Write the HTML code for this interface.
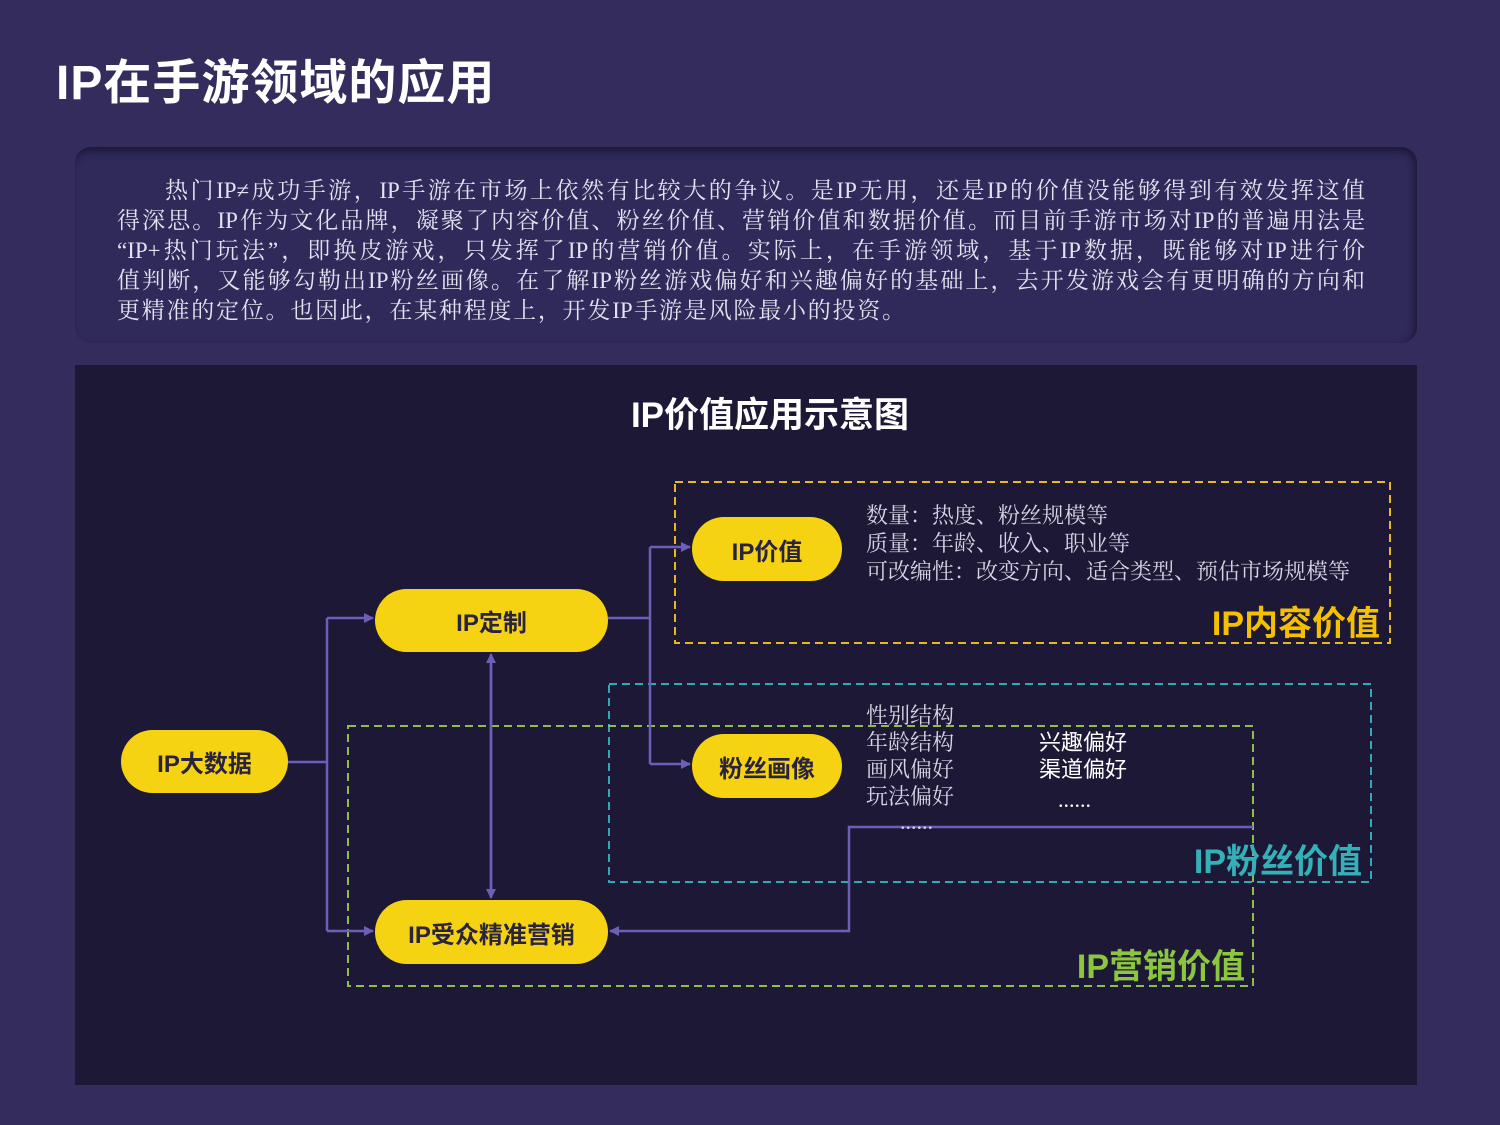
<!DOCTYPE html>
<html><head><meta charset="utf-8"><style>
*{margin:0;padding:0;box-sizing:border-box}
body{width:1500px;height:1125px;background:#352c5e;position:relative;overflow:hidden;font-family:"Liberation Sans","Noto Sans CJK SC",sans-serif}
.a{position:absolute;white-space:nowrap}
.h1{left:56px;top:54px;font-size:48px;font-weight:bold;color:#fff;line-height:60px;letter-spacing:1px}
.box{left:75px;top:147px;width:1342px;height:196px;border-radius:16px;background:#2f2a5a;box-shadow:inset 0 8px 8px -4px #1d1838, inset -6px 0 8px -4px #1d1838}
.p{left:117px;width:1248px;font-family:"Liberation Serif","Noto Serif CJK SC",serif;font-size:23px;color:#e4e2f0;line-height:30px;text-align:justify;text-align-last:justify;white-space:nowrap}
.panel{left:75px;top:365px;width:1342px;height:720px;background:#1c1836}
.node{position:absolute;background:#f6d312;border-radius:32px;color:#2a2340;font-weight:bold;font-size:24px;display:flex;align-items:center;justify-content:center}
.t{font-family:"Liberation Serif","Noto Serif CJK SC",serif;font-size:22px;color:#d6d4e4;line-height:28px}
.w{font-size:22px;color:#fff;line-height:27px}
.lab{font-size:34px;font-weight:bold;line-height:40px}
</style></head><body>
<div class="a h1">IP在手游领域的应用</div>
<div class="a box"></div>
<div class="a p" style="top:176px;padding-left:48px">热门IP≠成功手游，IP手游在市场上依然有比较大的争议。是IP无用，还是IP的价值没能够得到有效发挥这值</div>
<div class="a p" style="top:206px">得深思。IP作为文化品牌，凝聚了内容价值、粉丝价值、营销价值和数据价值。而目前手游市场对IP的普遍用法是</div>
<div class="a p" style="top:236px">“IP+热门玩法”，即换皮游戏，只发挥了IP的营销价值。实际上，在手游领域，基于IP数据，既能够对IP进行价</div>
<div class="a p" style="top:266px">值判断，又能够勾勒出IP粉丝画像。在了解IP粉丝游戏偏好和兴趣偏好的基础上，去开发游戏会有更明确的方向和</div>
<div class="a p" style="top:296px;width:788px">更精准的定位。也因此，在某种程度上，开发IP手游是风险最小的投资。</div>
<div class="a panel"></div>
<div class="a" style="left:0;width:1540px;text-align:center;top:394px;font-size:35px;font-weight:bold;color:#fff;line-height:44px">IP价值应用示意图</div>
<svg class="a" style="left:0;top:0" width="1500" height="1125">
<defs><marker id="m" markerWidth="10" markerHeight="10" refX="9" refY="5" orient="auto" markerUnits="userSpaceOnUse"><path d="M0,0L10,5L0,10z" fill="#6c5fb5"/></marker></defs>
<g fill="none" stroke-width="2" stroke-dasharray="8,5">
<rect x="675" y="482" width="715" height="161" stroke="#e8b820"/>
<rect x="609" y="684" width="762" height="198" stroke="#2fa8b8"/>
<rect x="348" y="726" width="905" height="260" stroke="#8dbf48"/>
</g>
<g fill="none" stroke="#6c5fb5" stroke-width="2.5">
<path d="M288,762H327"/>
<path d="M327,618V931"/>
<path d="M327,618H373" marker-end="url(#m)"/>
<path d="M327,931H373" marker-end="url(#m)"/>
<path d="M608,618H650"/>
<path d="M650,547V764"/>
<path d="M650,547H690" marker-end="url(#m)"/>
<path d="M650,764H690" marker-end="url(#m)"/>
<path d="M491,664V898" marker-end="url(#m)"/>
<path d="M491,890V654" marker-end="url(#m)"/>
<path d="M1253,827H849V931H610" marker-end="url(#m)"/>
</g>
</svg>
<div class="node" style="left:121px;top:730px;width:167px;height:63px">IP大数据</div>
<div class="node" style="left:375px;top:589px;width:233px;height:63px">IP定制</div>
<div class="node" style="left:375px;top:900px;width:233px;height:64px">IP受众精准营销</div>
<div class="node" style="left:692px;top:517px;width:150px;height:64px">IP价值</div>
<div class="node" style="left:692px;top:734px;width:150px;height:64px">粉丝画像</div>
<div class="a t" style="left:866px;top:502px">数量：热度、粉丝规模等<br>质量：年龄、收入、职业等<br>可改编性：改变方向、适合类型、预估市场规模等</div>
<div class="a t" style="left:866px;top:702px;line-height:27px">性别结构<br>年龄结构<br>画风偏好<br>玩法偏好</div>
<div class="a t" style="left:900px;top:808px">......</div>
<div class="a w" style="left:1039px;top:729px">兴趣偏好<br>渠道偏好</div>
<div class="a t" style="left:1058px;top:786px;color:#fff">......</div>
<div class="a lab" style="right:120px;top:604px;color:#f5c000">IP内容价值</div>
<div class="a lab" style="right:138px;top:842px;color:#35b0b8">IP粉丝价值</div>
<div class="a lab" style="right:255px;top:947px;color:#8cc63f">IP营销价值</div>
</body></html>
